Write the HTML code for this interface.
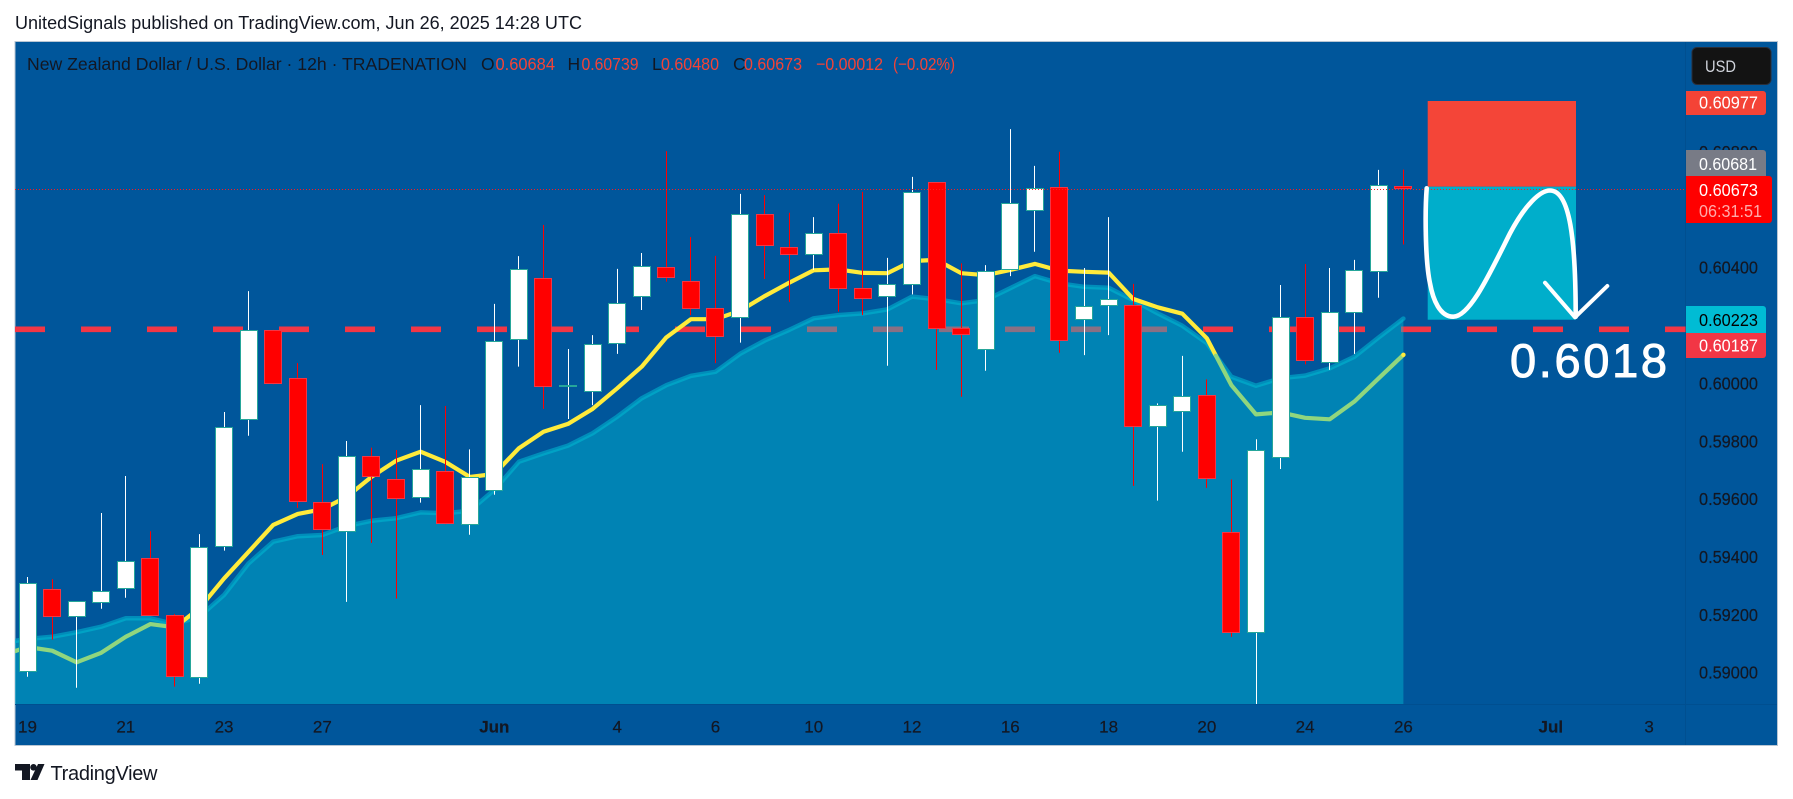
<!DOCTYPE html>
<html lang="en">
<head>
<meta charset="utf-8">
<title>NZD/USD 12h chart</title>
<style>
html,body{margin:0;padding:0;background:#fff;width:1793px;height:799px;overflow:hidden}
svg{display:block;font-family:"Liberation Sans",sans-serif}
.tick{font-size:17.5px;fill:#131722;stroke:#131722;stroke-width:.2}
.time{font-size:17px;fill:#131722;stroke:#131722;stroke-width:.2}
</style>
</head>
<body>
<svg id="chart" xmlns="http://www.w3.org/2000/svg" width="1793" height="799" viewBox="0 0 1793 799">
  <defs><clipPath id="plot-clip"><rect x="15" y="42" width="1670.5" height="662"/></clipPath></defs>
  <text x="15" y="29" font-size="18" fill="#131722" textLength="567" lengthAdjust="spacingAndGlyphs">UnitedSignals published on TradingView.com, Jun 26, 2025 14:28 UTC</text>
  <rect x="15" y="41.5" width="1762.5" height="704" fill="#00569b" stroke="#b9c6d3" stroke-width="1"/>
  <line x1="1685.5" y1="42" x2="1685.5" y2="745" stroke="#004f90"/>
  <line x1="15" y1="704.5" x2="1777" y2="704.5" stroke="#004f90"/>
  <g id="plot" clip-path="url(#plot-clip)"></g>
  <g>
    <rect x="1427.7" y="101" width="148.3" height="85.7" fill="#f44538"/>
    <rect x="1427.7" y="186.7" width="148.3" height="133" fill="#00aecb"/>
  </g>
  <line x1="15" y1="189.5" x2="1685" y2="189.5" stroke="#ff1a1a" stroke-width="1" stroke-dasharray="1 2"/>
  <path d="M1426.7 188.3 C1425 210 1425 260 1430 283.3 C1433 300 1440 316.7 1453.3 316.7 C1470 316.7 1490 273 1510 233.3 C1525 205 1540 190.5 1550 190.5 C1570 190.5 1575.7 240 1575.7 316.7" fill="none" stroke="#fff" stroke-width="4.6" stroke-linecap="round"/>
  <path d="M1545 282.7 L1575 317.3 L1607.3 286" fill="none" stroke="#fff" stroke-width="4" stroke-linecap="round" stroke-linejoin="round"/>
  <text x="1510" y="377" font-size="47" fill="#fff" stroke="#fff" stroke-width="1" textLength="157" lengthAdjust="spacing">0.6018</text>
  <text x="27" y="70" font-size="17.5" fill="#131722" textLength="440" lengthAdjust="spacingAndGlyphs">New Zealand Dollar / U.S. Dollar · 12h · TRADENATION</text>
  <g font-size="17.5">
    <text x="481" y="70" fill="#131722">O</text>
    <text x="495.5" y="70" fill="#f44336" textLength="59.5" lengthAdjust="spacingAndGlyphs">0.60684</text>
    <text x="567.5" y="70" fill="#131722">H</text>
    <text x="581.5" y="70" fill="#f44336" textLength="57" lengthAdjust="spacingAndGlyphs">0.60739</text>
    <text x="652" y="70" fill="#131722">L</text>
    <text x="661" y="70" fill="#f44336" textLength="58" lengthAdjust="spacingAndGlyphs">0.60480</text>
    <text x="733" y="70" fill="#131722">C</text>
    <text x="744" y="70" fill="#f44336" textLength="58" lengthAdjust="spacingAndGlyphs">0.60673</text>
    <text x="816" y="70" fill="#f44336" textLength="67" lengthAdjust="spacingAndGlyphs">−0.00012</text>
    <text x="893" y="70" fill="#f44336" textLength="62" lengthAdjust="spacingAndGlyphs">(−0.02%)</text>
  </g>
  <g id="price-ticks"></g>
  <g id="time-ticks"></g>
  <rect x="1692" y="47.5" width="79" height="37" rx="5" fill="#131313" stroke="#2a2e39"/>
  <text x="1705" y="72" font-size="17" fill="#d1d4dc" textLength="31" lengthAdjust="spacingAndGlyphs">USD</text>
  <path d="M1686 91 H1763 a3 3 0 0 1 3 3 V112 a3 3 0 0 1 -3 3 H1686 Z" fill="#f44336"/>
  <text x="1699" y="108.3" font-size="17.5" fill="#fff" textLength="59" lengthAdjust="spacingAndGlyphs">0.60977</text>
  <path d="M1686 150 H1763 a3 3 0 0 1 3 3 V176 H1686 Z" fill="#787b86"/>
  <text x="1699" y="169.8" font-size="17.5" fill="#fff" textLength="58" lengthAdjust="spacingAndGlyphs">0.60681</text>
  <path d="M1686 176 H1769 a3 3 0 0 1 3 3 V220 a3 3 0 0 1 -3 3 H1686 Z" fill="#ff0000"/>
  <text x="1699" y="195.8" font-size="17.5" fill="#fff" textLength="59" lengthAdjust="spacingAndGlyphs">0.60673</text>
  <text x="1699" y="217.2" font-size="17.5" fill="#ffaaaa" textLength="63" lengthAdjust="spacingAndGlyphs">06:31:51</text>
  <path d="M1686 306 H1763 a3 3 0 0 1 3 3 V333 H1686 Z" fill="#00bcd4"/>
  <text x="1699" y="326.2" font-size="17.5" fill="#000" textLength="59" lengthAdjust="spacingAndGlyphs">0.60223</text>
  <path d="M1686 333 H1766 V355 a3 3 0 0 1 -3 3 H1686 Z" fill="#f23645"/>
  <text x="1699" y="351.3" font-size="17.5" fill="#fff" textLength="59" lengthAdjust="spacingAndGlyphs">0.60187</text>
  <g fill="#131722">
    <path d="M15 764 H30 V780 H22 V770.5 H15 Z"/>
    <circle cx="33.5" cy="767.3" r="3.3"/>
    <path d="M38 764 H44.5 L37.5 780 H30.5 Z"/>
  </g>
  <text x="50.5" y="780" font-size="20" fill="#131722" textLength="107" lengthAdjust="spacing">TradingView</text>
</svg>
<script>
// Candle data, bar index 0 to 56
const opens = [.59001,.59288,.59194,.59240,.59288,.59395,.59198,.58981,.59434,.59872,.60184,.60018,.59589,.59485,.59750,.59671,.59603,.59696,.59509,.59628,.60149,.60363,.59987,.59969,.60135,.60298,.60401,.60353,.60260,.60225,.60585,.60471,.60443,.60519,.60329,.60300,.60339,.60695,.60191,.60114,.60391,.60595,.60678,.60218,.60267,.60270,.59850,.59900,.59959,.59485,.59136,.59741,.60229,.60070,.60242,.60384,.60684];
const highs = [.59331,.59323,.59247,.59552,.59680,.59489,.59203,.59479,.59901,.60319,.60185,.60070,.59721,.59801,.59778,.59770,.59925,.59922,.59772,.60275,.60440,.60548,.60119,.60167,.60396,.60451,.60803,.60506,.60441,.60655,.60651,.60590,.60575,.60621,.60662,.60434,.60714,.60696,.60415,.60409,.60879,.60752,.60801,.60399,.60575,.60344,.59931,.60095,.60014,.59668,.59807,.60340,.60413,.60399,.60427,.60738,.60739];
const lows = [.58986,.59115,.58948,.59221,.59259,.59197,.58952,.58962,.59422,.59819,.59997,.59570,.59407,.59245,.59449,.59256,.59588,.59513,.59477,.59615,.60058,.59912,.59877,.59925,.60102,.60254,.60352,.60236,.60070,.60141,.60361,.60282,.60392,.60248,.60236,.60061,.60308,.60047,.59954,.60044,.60371,.60455,.60106,.60098,.60167,.59646,.59595,.59764,.59639,.59124,.58892,.59704,.60066,.60047,.60102,.60296,.60480];
const closes = [.59309,.59194,.59247,.59283,.59387,.59197,.58984,.59435,.59848,.60184,.59997,.59589,.59492,.59750,.59675,.59601,.59705,.59513,.59677,.60148,.60394,.59989,.59993,.60135,.60277,.60405,.60363,.60258,.60159,.60585,.60474,.60443,.60519,.60325,.60293,.60343,.60661,.60189,.60168,.60390,.60623,.60677,.60148,.60267,.60291,.59850,.59924,.59955,.59671,.59136,.59769,.60229,.60076,.60246,.60391,.60685,.60673];
// Indicator series, first value belongs to bar index -1
const maLine = [.59061,.59089,.59076,.59036,.59069,.59124,.59168,.59157,.59223,.59326,.59418,.59511,.59549,.59565,.59608,.59677,.59733,.59764,.59729,.59677,.59687,.59776,.59833,.59860,.59912,.59983,.60058,.60159,.60222,.60222,.60251,.60302,.60348,.60391,.60394,.60382,.60381,.60423,.60427,.60381,.60374,.60392,.60413,.60390,.60386,.60383,.60292,.60263,.60241,.60156,.59994,.59893,.59900,.59881,.59876,.59937,.60018,.60099];
const bandLine = [.59103,.59117,.59124,.59140,.59159,.59188,.59188,.59168,.59194,.59269,.59378,.59453,.59472,.59476,.59507,.59525,.59534,.59554,.59551,.59560,.59632,.59729,.59758,.59785,.59828,.59885,.59949,.59994,.60026,.60040,.60102,.60148,.60185,.60225,.60236,.60242,.60256,.60300,.60291,.60277,.60288,.60329,.60371,.60346,.60334,.60331,.60288,.60242,.60199,.60139,.60023,.59992,.60018,.60027,.60052,.60092,.60159,.60224];
const supportLevel = 0.60187;
// Axis labels
const priceTicks = [0.60800,0.60400,0.60000,0.59800,0.59600,0.59400,0.59200,0.59000];
const timeLabels = ["19","21","23","27","Jun","4","6","10","12","16","18","20","24","26","Jul","3"];
const timeBars = [0,4,8,12,19,24,28,32,36,40,44,48,52,56,62,66];
const boldLabels = ["Jun","Jul"];

const SVGNS = "http://www.w3.org/2000/svg";
const xAt = i => 27.5 + 24.57 * i;
const yAt = p => 267.7 - (p - 0.604) * 28930;
const plot = document.getElementById("plot");
function make(tag, attrs, parent){
  const node = document.createElementNS(SVGNS, tag);
  for (const k in attrs) node.setAttribute(k, attrs[k]);
  parent.appendChild(node);
  return node;
}

// Support level line, beneath the band area
const lvl = make("line", {x1:15, x2:1686, y1:yAt(supportLevel), y2:yAt(supportLevel), stroke:"#f23645", "stroke-width":5.6, "stroke-dasharray":"30 36"}, plot);



// Band area and its top line
const bandPts = bandLine.map((v, k) => [xAt(k - 1), yAt(v)]);
const lastBandX = bandPts[bandPts.length - 1][0];
const areaD = "M" + bandPts.map(p => p[0].toFixed(1) + " " + p[1].toFixed(1)).join(" L") + " L" + lastBandX.toFixed(1) + " 704 L" + bandPts[0][0].toFixed(1) + " 704 Z";
const area = make("path", {d:areaD, fill:"#00bdd6", "fill-opacity":0.43}, plot);


const bandStroke = make("polyline", {points:bandPts.map(p => p[0].toFixed(1) + "," + p[1].toFixed(1)).join(" "), fill:"none", stroke:"#00bcd4", "stroke-opacity":0.55, "stroke-width":4.5, "stroke-linejoin":"round", "stroke-linecap":"round"}, plot);



// Moving average, yellow above the band and green below it
let run = [];
let runAbove = maLine[0] >= bandLine[0];
function flushRun(){
  const seg = make("polyline", {points:run.map(p => p[0].toFixed(1) + "," + p[1].toFixed(1)).join(" "), fill:"none", stroke:runAbove ? "#ffeb3b" : "#90d67e", "stroke-width":4.2, "stroke-linejoin":"round", "stroke-linecap":"round"}, plot);
  
  
}
run.push([xAt(-1), yAt(maLine[0])]);
for (let k = 1; k < maLine.length; k++){
  const above = maLine[k] >= bandLine[k];
  if (above !== runAbove){
    const d0 = maLine[k-1] - bandLine[k-1], d1 = maLine[k] - bandLine[k];
    const t = d0 / (d0 - d1);
    const cross = [xAt(k - 2 + t), yAt(maLine[k-1] + (maLine[k] - maLine[k-1]) * t)];
    run.push(cross);
    flushRun();
    run = [cross];
    runAbove = above;
  }
  run.push([xAt(k - 1), yAt(maLine[k])]);
}
flushRun();
const endDot = make("circle", {cx:xAt(maLine.length - 2), cy:yAt(maLine[maLine.length - 1]), r:2.2, fill:"#ffeb3b"}, plot);



// Candles
opens.forEach((o, i) => {
  const c = closes[i], up = c >= o;
  const g = make("g", {}, plot);
  
  
  const cx = xAt(i);
  const wx = Math.round(cx - 0.5) + 0.5;
  const wick = make("line", {x1:wx, x2:wx, y1:yAt(highs[i]), y2:yAt(lows[i]), stroke:up ? "#ffffff" : "#ff0000", "stroke-width":1}, g);
  
  
  const top = Math.round(yAt(Math.max(o, c)));
  const bot = Math.round(yAt(Math.min(o, c)));
  const left = Math.round(cx - 9);
  const body = make("rect", {x:left + 0.5, y:top + 0.5, width:17, height:Math.max(bot - top - 1, 1), fill:up ? "#ffffff" : "#ff0000", stroke:up ? "#26a69a" : "#f23645", "stroke-width":1}, g);
  
  
});

// Price axis
const priceGroup = document.getElementById("price-ticks");
priceTicks.forEach(p => {
  const t = make("text", {x:1699, y:yAt(p) + 6, class:"tick", textLength:59, lengthAdjust:"spacingAndGlyphs"}, priceGroup);
  
  
  t.textContent = p.toFixed(5);
});

// Time axis
const timeGroup = document.getElementById("time-ticks");
timeLabels.forEach((label, k) => {
  const t = make("text", {x:xAt(timeBars[k]), y:732.5, "text-anchor":"middle", class:"time"}, timeGroup);
  
  
  if (boldLabels.includes(label)) t.setAttribute("font-weight", "bold");
  t.textContent = label;
});
</script>
</body>
</html>
